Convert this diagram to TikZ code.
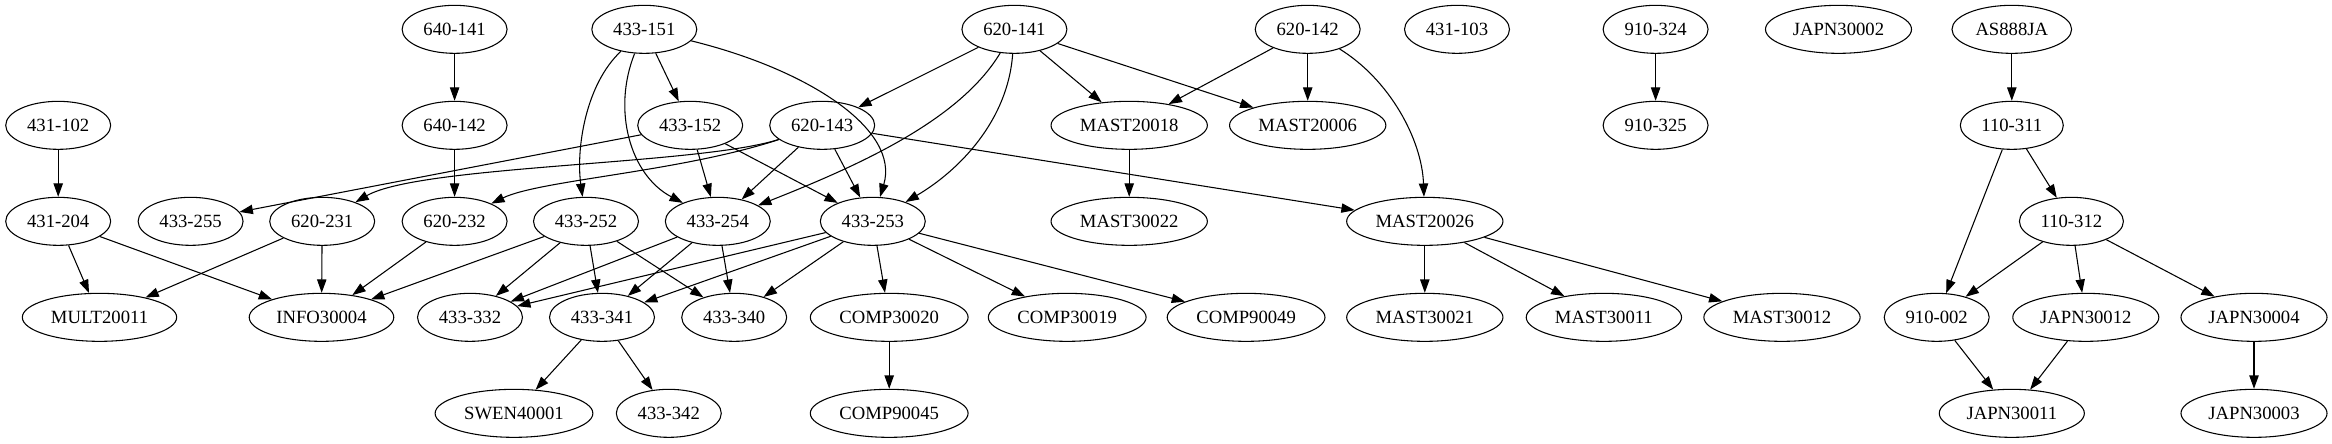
\documentclass[tikz,border=0pt]{standalone}
\usepackage{fontspec}
\setmainfont{Liberation Serif}
\usetikzlibrary{shapes.geometric,arrows.meta}
\begin{document}
\begin{tikzpicture}[x=0.75pt,y=0.75pt,
  nd/.style={draw,ellipse,line width=0.8pt,minimum height=36pt,inner xsep=4.5pt,inner ysep=2pt,font=\fontsize{14}{16}\selectfont},
  e/.style={line width=0.8pt,-{Triangle[length=10pt,width=7pt]}}]
\useasboundingbox (0,0) rectangle (2332,-443);
% row 1
\node[nd] (n640141) at (454.6,-29.33) {640-141};
\node[nd] (n433151) at (644.3,-29.33) {433-151};
\node[nd] (n620141) at (1014.4,-29.33) {620-141};
\node[nd] (n620142) at (1307.7,-29.33) {620-142};
\node[nd] (n431103) at (1457,-29.33) {431-103};
\node[nd] (n910324) at (1655.6,-29.33) {910-324};
\node[nd] (JAPN30002) at (1838.5,-29.33) {JAPN30002};
\node[nd] (AS888JA) at (2011.8,-29.33) {AS888JA};
% row 2
\node[nd] (n431102) at (58.2,-125.33) {431-102};
\node[nd] (n640142) at (454.6,-125.33) {640-142};
\node[nd] (n433152) at (690.2,-125.33) {433-152};
\node[nd] (n620143) at (822.2,-125.33) {620-143};
\node[nd] (MAST20018) at (1129.2,-125.33) {MAST20018};
\node[nd] (MAST20006) at (1307.7,-125.33) {MAST20006};
\node[nd] (n910325) at (1655.6,-125.33) {910-325};
\node[nd] (n110311) at (2011.8,-125.33) {110-311};
% row 3
\node[nd] (n431204) at (58.2,-221.33) {431-204};
\node[nd] (n433255) at (190.6,-221.33) {433-255};
\node[nd] (n620231) at (322.2,-221.33) {620-231};
\node[nd] (n620232) at (454.6,-221.33) {620-232};
\node[nd] (n433252) at (586,-221.33) {433-252};
\node[nd] (n433254) at (717.8,-221.33) {433-254};
\node[nd] (n433253) at (872.8,-221.33) {433-253};
\node[nd] (MAST30022) at (1129.2,-221.33) {MAST30022};
\node[nd] (MAST20026) at (1424.8,-221.33) {MAST20026};
\node[nd] (n110312) at (2071.4,-221.33) {110-312};
% row 4
\node[nd] (MULT20011) at (99.5,-317.33) {MULT20011};
\node[nd] (INFO30004) at (321.5,-317.33) {INFO30004};
\node[nd] (n433332) at (470,-317.33) {433-332};
\node[nd] (n433341) at (602,-317.33) {433-341};
\node[nd] (n433340) at (734.2,-317.33) {433-340};
\node[nd] (COMP30020) at (889.2,-317.33) {COMP30020};
\node[nd] (COMP30019) at (1067.2,-317.33) {COMP30019};
\node[nd] (COMP90049) at (1246.1,-317.33) {COMP90049};
\node[nd] (MAST30021) at (1424.8,-317.33) {MAST30021};
\node[nd] (MAST30011) at (1603.9,-317.33) {MAST30011};
\node[nd] (MAST30012) at (1782,-317.33) {MAST30012};
\node[nd] (n910002) at (1936.7,-317.33) {910-002};
\node[nd] (JAPN30012) at (2085.8,-317.33) {JAPN30012};
\node[nd] (JAPN30004) at (2254,-317.33) {JAPN30004};
% row 5
\node[nd] (SWEN40001) at (514,-413.33) {SWEN40001};
\node[nd] (n433342) at (668.8,-413.33) {433-342};
\node[nd] (COMP90045) at (889.2,-413.33) {COMP90045};
\node[nd] (JAPN30011) at (2011.8,-413.33) {JAPN30011};
\node[nd] (JAPN30003) at (2254,-413.33) {JAPN30003};
% edges
\draw[e] (n640141) -- (n640142);
\draw[e] (n640142) -- (n620232);
\draw[e] (n431102) -- (n431204);
\draw[e] (n431204) -- (MULT20011);
\draw[e] (n431204) -- (INFO30004);
\draw[e] (n433151) -- (n433152);
\draw[e] (n433151) .. controls (585,-85) and (576,-150) .. (n433252);
\draw[e] (n433151) .. controls (612,-110) and (630,-175) .. (n433254);
\draw[e] (n433151) .. controls (810,-70) and (900,-130) .. (n433253);
\draw[e] (n433152) -- (n433255);
\draw[e] (n433152) -- (n433254);
\draw[e] (n433152) -- (n433253);
\draw[e] (n620143) .. controls (700,-165) and (420,-165) .. (n620231);
\draw[e] (n620143) .. controls (680,-172) and (540,-180) .. (n620232);
\draw[e] (n620143) -- (n433254);
\draw[e] (n620143) -- (n433253);
\draw[e] (n620143) -- (MAST20026);
\draw[e] (n620141) -- (n620143);
\draw[e] (n620141) .. controls (960,-120) and (860,-165) .. (n433254);
\draw[e] (n620141) .. controls (1008,-120) and (960,-170) .. (n433253);
\draw[e] (n620141) -- (MAST20018);
\draw[e] (n620141) -- (MAST20006);
\draw[e] (n620142) -- (MAST20018);
\draw[e] (n620142) -- (MAST20006);
\draw[e] (n620142) .. controls (1390,-80) and (1422,-140) .. (MAST20026);
\draw[e] (MAST20018) -- (MAST30022);
\draw[e] (n620231) -- (MULT20011);
\draw[e] (n620231) -- (INFO30004);
\draw[e] (n620232) -- (INFO30004);
\draw[e] (n433252) -- (INFO30004);
\draw[e] (n433252) -- (n433332);
\draw[e] (n433252) -- (n433341);
\draw[e] (n433252) -- (n433340);
\draw[e] (n433254) -- (n433332);
\draw[e] (n433254) -- (n433341);
\draw[e] (n433254) -- (n433340);
\draw[e] (n433253) -- (n433332);
\draw[e] (n433253) -- (n433341);
\draw[e] (n433253) -- (n433340);
\draw[e] (n433253) -- (COMP30020);
\draw[e] (n433253) -- (COMP30019);
\draw[e] (n433253) -- (COMP90049);
\draw[e] (n433341) -- (SWEN40001);
\draw[e] (n433341) -- (n433342);
\draw[e] (COMP30020) -- (COMP90045);
\draw[e] (MAST20026) -- (MAST30021);
\draw[e] (MAST20026) -- (MAST30011);
\draw[e] (MAST20026) -- (MAST30012);
\draw[e] (n910324) -- (n910325);
\draw[e] (AS888JA) -- (n110311);
\draw[e] (n110311) -- (n110312);
\draw[e] (n110311) -- (n910002);
\draw[e] (n110312) -- (n910002);
\draw[e] (n110312) -- (JAPN30012);
\draw[e] (n110312) -- (JAPN30004);
\draw[e] (n910002) -- (JAPN30011);
\draw[e] (JAPN30012) -- (JAPN30011);
\draw[e] (JAPN30004) -- (JAPN30003);
\end{tikzpicture}
\end{document}
